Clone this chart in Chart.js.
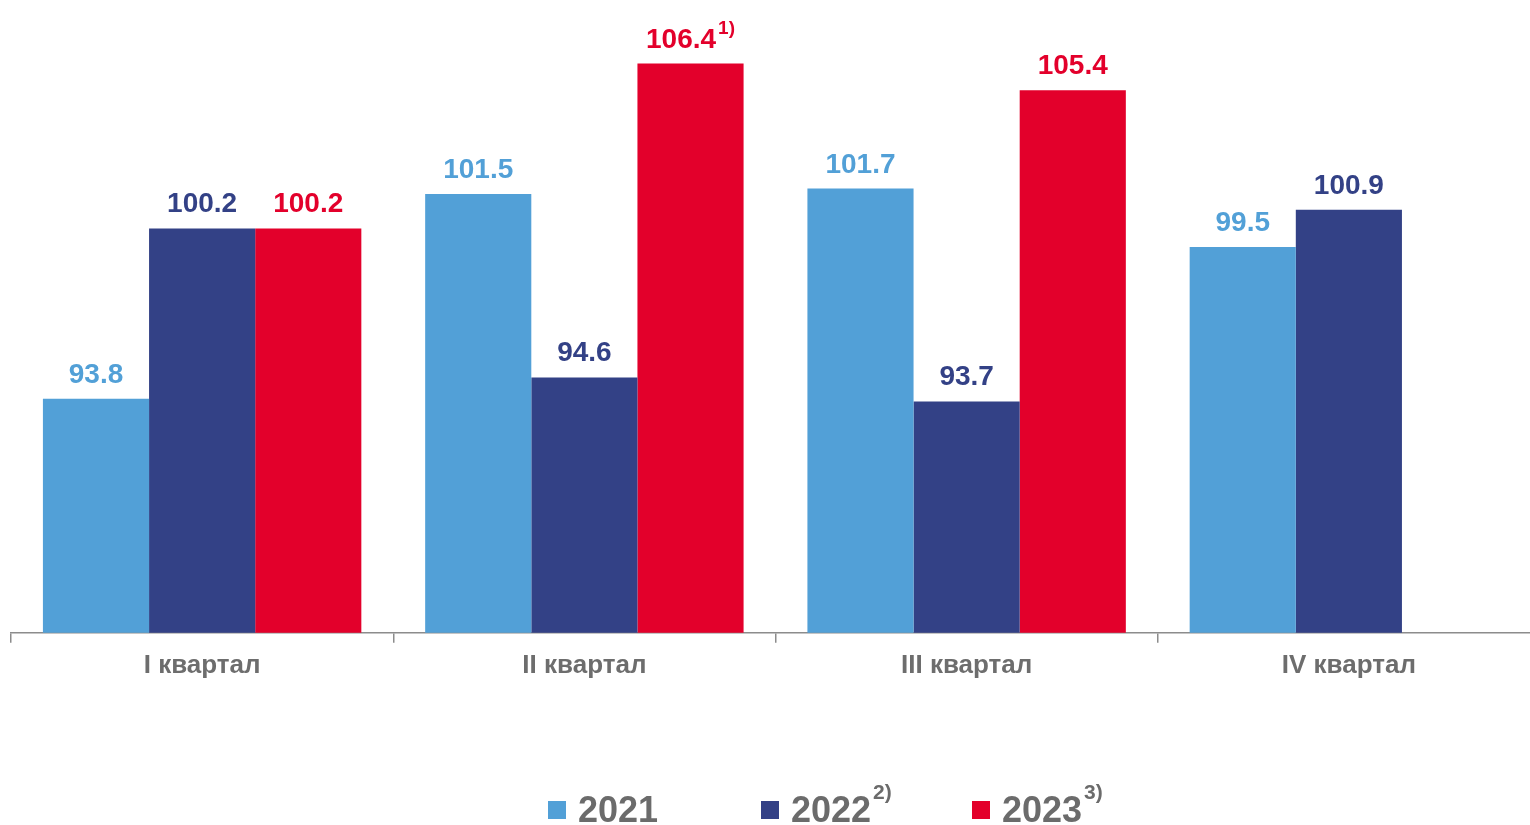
<!DOCTYPE html>
<html lang="ru">
<head>
    <meta charset="UTF-8">
    <title>Индексы по кварталам</title>
    <script src="https://cdn.jsdelivr.net/npm/chart.js@4.4.0/dist/chart.umd.min.js"></script>
    <style>
      html, body { margin:0; padding:0; overflow:hidden; background:#ffffff; }
      #wrap { position:absolute; left:0; top:0; width:1545px; height:825px; }
    </style>
</head>
<body>
<div id="wrap"><canvas id="quarters"></canvas></div>
<script>
  // данные
  const quarters = ['I квартал', 'II квартал', 'III квартал', 'IV квартал'];
  const years = ['2021', '2022', '2023'];
  const yearNotes = ['', '2)', '3)'];
  const values2021 = [93.8, 101.5, 101.7, 99.5];
  const values2022 = [100.2, 94.6, 93.7, 100.9];
  const values2023 = [100.2, 106.4, 105.4, null];
  const notes2023 = ['', '1)', '', ''];

  const colors = ['#52a0d7', '#334186', '#e3002b'];
  const grey = '#6d6d6d';
  const font = 'Liberation Sans, Arial, sans-serif';

  // подписи значений над столбцами
  const valueLabels = {
    id: 'valueLabels',
    afterDatasetsDraw(chart) {
      const ctx = chart.ctx;
      ctx.save();
      chart.data.datasets.forEach((ds, di) => {
        const meta = chart.getDatasetMeta(di);
        meta.data.forEach((bar, i) => {
          const v = ds.data[i];
          if (v == null) return;
          const txt = v.toFixed(1);
          const note = di == 2 ? notes2023[i] : '';
          ctx.font = 'bold 28px ' + font;
          const w = ctx.measureText(txt).width;
          ctx.font = 'bold 19px ' + font;
          const wn = note ? ctx.measureText(note).width + 2 : 0;
          const x0 = bar.x - (w + wn) / 2;
          const y = bar.y - 16;
          ctx.fillStyle = colors[di];
          ctx.textBaseline = 'alphabetic';
          ctx.textAlign = 'left';
          ctx.font = 'bold 28px ' + font;
          ctx.fillText(txt, x0, y);
          if (note) {
            ctx.font = 'bold 19px ' + font;
            ctx.fillText(note, x0 + w + 2, y - 14);
          }
        });
      });
      ctx.restore();
    }
  };

  // легенда внизу со сносками
  const bottomLegend = {
    id: 'bottomLegend',
    afterDraw(chart) {
      const ctx = chart.ctx;
      const xs = [548, 761, 972];
      ctx.save();
      years.forEach((yr, i) => {
        ctx.fillStyle = colors[i];
        ctx.fillRect(xs[i], 801, 18, 18);
        ctx.fillStyle = '#6b6b6b';
        ctx.font = 'bold 36px ' + font;
        ctx.textBaseline = 'alphabetic';
        ctx.textAlign = 'left';
        ctx.fillText(yr, xs[i] + 30, 822);
        const w = ctx.measureText(yr).width;
        if (yearNotes[i]) {
          ctx.font = 'bold 21px ' + font;
          ctx.fillText(yearNotes[i], xs[i] + 30 + w + 2, 799);
        }
      });
      ctx.restore();
    }
  };

  new Chart(document.getElementById('quarters'), {
    type: 'bar',
    data: {
      labels: quarters,
      datasets: [
        { label: years[0], data: values2021, backgroundColor: colors[0] },
        { label: years[1], data: values2022, backgroundColor: colors[1] },
        { label: years[2], data: values2023, backgroundColor: colors[2] }
      ]
    },
    options: {
      responsive: true,
      maintainAspectRatio: false,
      animation: false,
      categoryPercentage: 0.833,
      barPercentage: 1.0,
      layout: { padding: { left: 11, right: 5, top: 21, bottom: 137 } },
      plugins: { legend: { display: false }, tooltip: { enabled: false } },
      scales: {
        x: {
          grid: { drawOnChartArea: false, drawTicks: true, tickLength: 10, color: '#8c8c8c', lineWidth: 1.5 },
          border: { color: '#8c8c8c', width: 1.5 },
          ticks: { color: grey, padding: 7, font: { family: font, size: 26, weight: 'bold' } }
        },
        y: { display: false, min: 85, max: 108 }
      }
    },
    plugins: [valueLabels, bottomLegend]
  });
</script>
</body>
</html>
